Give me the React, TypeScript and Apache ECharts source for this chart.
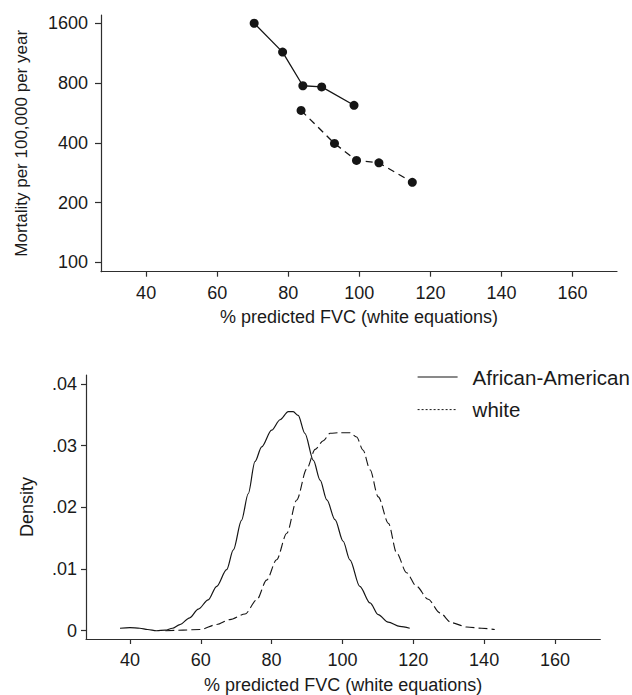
import React, { useEffect, useRef } from "react";
import * as echarts from "echarts";

// ---- Top panel: mortality vs % predicted FVC ----
const fvcAA = [70.4, 78.4, 84.1, 89.4, 98.5];
const mortAA = [1600, 1145, 775, 765, 618];
const fvcWhite = [83.6, 93.0, 99.2, 105.5, 114.9];
const mortWhite = [582, 397, 326, 317, 253];
const mortTicks = [100, 200, 400, 800, 1600];
const fvcTicks = [40, 60, 80, 100, 120, 140, 160];

// ---- Bottom panel: density of % predicted FVC ----
const densXAA = [37.2, 40, 42.8, 45, 47.5, 50, 52, 54.1, 56.9, 59.3, 62.1, 64.5, 67.3, 69.2, 71.5, 73.4, 75.3, 77.2, 80.0, 82.4, 84.7, 86.1, 87.5, 89.4, 91.8, 93.7, 95.6, 97.9, 100.2, 102.1, 104.9, 107.8, 110.1, 112.9, 116.2, 119.0];
const densYAA = [0.0004, 0.0005, 0.0004, 0.0002, 0.0, 0.0001, 0.0004, 0.001, 0.0021, 0.0035, 0.005, 0.0072, 0.0099, 0.0131, 0.0179, 0.0222, 0.0274, 0.0298, 0.0325, 0.0342, 0.0355, 0.0355, 0.0349, 0.032, 0.0276, 0.0244, 0.0212, 0.018, 0.0145, 0.0115, 0.0072, 0.0045, 0.0026, 0.0014, 0.0007, 0.0004];
const densXWhite = [50, 55, 59.8, 64.5, 68.2, 72.5, 75.8, 78.6, 81.4, 84.3, 87.1, 89.9, 92.3, 94.6, 96.5, 99.3, 102.1, 104.0, 105.8, 107.8, 110.1, 113.0, 115.3, 118.1, 120.9, 124.2, 127.5, 130.8, 135.1, 139.3, 143.0];
const densYWhite = [0.0, 0.0001, 0.0002, 0.001, 0.0018, 0.0027, 0.005, 0.0082, 0.0115, 0.0158, 0.0212, 0.0262, 0.0294, 0.0308, 0.032, 0.0321, 0.0321, 0.0314, 0.0293, 0.0261, 0.0217, 0.0174, 0.0126, 0.0094, 0.0072, 0.0051, 0.0029, 0.0013, 0.0006, 0.0004, 0.0002];
const densTicks = [0, 0.01, 0.02, 0.03, 0.04];

const FONT = "Liberation Sans, Arial, Helvetica, sans-serif";
const AXIS = "#2e2e2e";
const TEXT = "#1a1a1a";
const INK = "#151515";

export default function App() {
  const ref = useRef<HTMLDivElement>(null);
  useEffect(() => {
    if (!ref.current) return;
    const chart = echarts.init(ref.current, null, { renderer: "svg" });
    const zip = (xs: number[], ys: number[], f = (v: number) => v) => xs.map((x, i) => [x, f(ys[i])]);
    const axisLine = { show: true, onZero: false, lineStyle: { color: AXIS, width: 1.2 } };
    const labelStyle = { fontSize: 18, color: TEXT, fontFamily: FONT };
    const nameStyle = { fontSize: 18, color: TEXT, fontFamily: FONT };
    const log2Ticks = mortTicks.map((v) => Math.log2(v));
    const hiddenSymbol = { color: "rgba(0,0,0,0)", borderWidth: 0, opacity: 0 };
    const option: any = {
      animation: false,
      backgroundColor: "#fff",
      textStyle: { fontFamily: FONT },
      grid: [
        { left: 101, right: 15, top: 15, bottom: 423.3 },
        { left: 86, right: 31.7, top: 375, bottom: 55 },
      ],
      legend: {
        orient: "vertical",
        left: 417,
        top: 366,
        padding: 0,
        itemWidth: 40,
        itemHeight: 14,
        itemGap: 10.6,
        textStyle: { fontSize: 20.5, color: TEXT, fontFamily: FONT, lineHeight: 22, padding: [0, 0, 0, 10] },
        data: [
          { name: "African-American", lineStyle: { type: "solid", width: 1.2, color: INK }, itemStyle: hiddenSymbol },
          { name: "white", lineStyle: { type: [2, 2], width: 1, color: INK }, itemStyle: hiddenSymbol },
        ],
      },
      xAxis: [
        {
          type: "value",
          gridIndex: 0,
          min: 27.3,
          max: 172.5,
          axisLine,
          axisTick: { show: true, customValues: fvcTicks, length: 5, lineStyle: { color: AXIS, width: 1.2 } },
          axisLabel: { customValues: fvcTicks, margin: 12, ...labelStyle },
          splitLine: { show: false },
          name: "% predicted FVC (white equations)",
          nameLocation: "middle",
          nameGap: 36,
          nameTextStyle: nameStyle,
        },
        {
          type: "value",
          gridIndex: 1,
          min: 27.6,
          max: 172.8,
          axisLine,
          axisTick: { show: true, customValues: fvcTicks, length: 5, lineStyle: { color: AXIS, width: 1.2 } },
          axisLabel: { customValues: fvcTicks, margin: 12, ...labelStyle },
          splitLine: { show: false },
          name: "% predicted FVC (white equations)",
          nameLocation: "middle",
          nameGap: 37,
          nameTextStyle: nameStyle,
        },
      ],
      yAxis: [
        {
          type: "value",
          gridIndex: 0,
          min: Math.log2(89.7),
          max: Math.log2(1761),
          axisLine,
          axisTick: { show: true, customValues: log2Ticks, length: 6, lineStyle: { color: AXIS, width: 1.2 } },
          axisLabel: {
            customValues: log2Ticks,
            margin: 13,
            formatter: (v: number) => String(Math.round(Math.pow(2, v))),
            ...labelStyle,
          },
          splitLine: { show: false },
          name: "Mortality per 100,000 per year",
          nameLocation: "middle",
          nameGap: 71,
          nameTextStyle: { ...nameStyle, fontSize: 17 },
        },
        {
          type: "value",
          gridIndex: 1,
          min: -0.00134,
          max: 0.04145,
          axisLine,
          axisTick: { show: true, customValues: densTicks, length: 5, lineStyle: { color: AXIS, width: 1.2 } },
          axisLabel: {
            customValues: densTicks,
            margin: 9,
            formatter: (v: number) => (Math.abs(v) < 1e-9 ? "0" : v.toFixed(2).replace(/^0/, "")),
            ...labelStyle,
          },
          splitLine: { show: false },
          name: "Density",
          nameLocation: "middle",
          nameGap: 50,
          nameTextStyle: nameStyle,
        },
      ],
      series: [
        {
          name: "AA mortality",
          type: "line",
          xAxisIndex: 0,
          yAxisIndex: 0,
          data: zip(fvcAA, mortAA, Math.log2),
          symbol: "circle",
          symbolSize: 9,
          itemStyle: { color: INK },
          lineStyle: { color: INK, width: 1.3 },
        },
        {
          name: "white mortality",
          type: "line",
          xAxisIndex: 0,
          yAxisIndex: 0,
          data: zip(fvcWhite, mortWhite, Math.log2),
          symbol: "circle",
          symbolSize: 9,
          itemStyle: { color: INK },
          lineStyle: { color: INK, width: 1.3, type: [7, 5] },
        },
        {
          name: "African-American",
          type: "line",
          xAxisIndex: 1,
          yAxisIndex: 1,
          data: zip(densXAA, densYAA),
          symbol: "none",
          smooth: 0.3,
          smoothMonotone: "x",
          itemStyle: { color: INK },
          lineStyle: { color: INK, width: 1.2 },
        },
        {
          name: "white",
          type: "line",
          xAxisIndex: 1,
          yAxisIndex: 1,
          data: zip(densXWhite, densYWhite),
          symbol: "none",
          smooth: 0.3,
          smoothMonotone: "x",
          itemStyle: { color: INK },
          lineStyle: { color: INK, width: 1.1, type: [9, 4] },
        },
      ],
    };
    chart.setOption(option);
    return () => chart.dispose();
  }, []);
  return (
    <div
      ref={ref}
      style={{ position: "fixed", left: 0, top: 0, width: 632, height: 695, background: "#fff" }}
    />
  );
}
